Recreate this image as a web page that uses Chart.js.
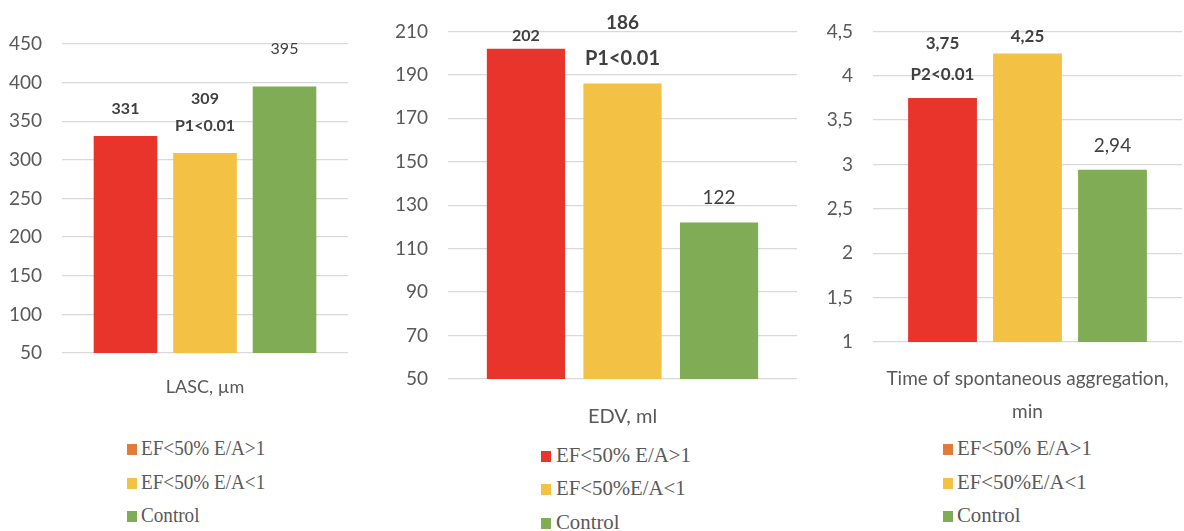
<!DOCTYPE html>
<html>
<head>
<meta charset="utf-8">
<script src="https://cdn.jsdelivr.net/npm/chart.js@4.4.1/dist/chart.umd.min.js"></script>
<style>
  html, body { margin: 0; padding: 0; background: #fff; }
  body { width: 1184px; height: 531px; position: relative; overflow: hidden; }
  .panel { position: absolute; top: 0; }
  .legend { position: absolute; font-family: "Liberation Serif", "Times New Roman", serif; color: #595959; }
  .legend .row { position: absolute; left: 0; white-space: nowrap; }
  .legend .box { position: absolute; left: 0; }
  .legend .txt { position: absolute; top: 0; transform-origin: 0 50%; display: inline-block; }
</style>
</head>
<body>
<div class="panel" id="p1" style="left:0;width:360px;height:410px"><canvas id="c1" width="360" height="410"></canvas></div>
<div class="panel" id="p2" style="left:380px;width:420px;height:440px"><canvas id="c2" width="420" height="440"></canvas></div>
<div class="panel" id="p3" style="left:800px;width:384px;height:430px"><canvas id="c3" width="384" height="430"></canvas></div>
<div class="legend" id="l1"></div>
<div class="legend" id="l2"></div>
<div class="legend" id="l3"></div>
<script>
// ---------- data ----------
const seriesNames1 = ['EF<50% E/A>1', 'EF<50% E/A<1', 'Control'];
const seriesNames2 = ['EF<50% E/A>1', 'EF<50%E/A<1', 'Control'];
const seriesNames3 = ['EF<50% E/A>1', 'EF<50%E/A<1', 'Control'];

const lascCategory = ['LASC, µm'];
const edvCategory = ['EDV, ml'];
const aggCategory = [['Time of spontaneous aggregation,', 'min']];

const lascValues = [331, 309, 395];
const edvValues = [202, 186, 122];
const aggValues = [3.75, 4.25, 2.94];

const lascNotes = ['', 'P1<0.01', ''];
const edvNotes = ['', 'P1<0.01', ''];
const aggNotes = ['P2<0.01', '', ''];

const lascAxis = { min: 50, max: 450, step: 50 };
const edvAxis = { min: 50, max: 210, step: 20 };
const aggAxis = { min: 1, max: 4.5, step: 0.5 };

// ---------- styles ----------
const barColors = ['#E8342A', '#F3C143', '#80AC56'];
const legendColors1 = ['#E07B39', '#F3C143', '#80AC56'];
const legendColors2 = ['#E8342A', '#F3C143', '#80AC56'];
const legendColors3 = ['#E07B39', '#F3C143', '#80AC56'];

const fmt = v => String(v).replace('.', ',');

const valueLabelPlugin = {
  id: 'valueLabels',
  afterDatasetsDraw(chart, args, opts) {
    const ctx = chart.ctx;
    ctx.save();
    ctx.textAlign = 'center';
    ctx.textBaseline = 'middle';
    ctx.fillStyle = '#404040';
    chart.data.datasets.forEach((ds, i) => {
      const bar = chart.getDatasetMeta(i).data[0];
      const lines = [fmt(ds.data[0])];
      if (opts.notes[i]) lines.push(opts.notes[i]);
      lines.forEach((t, j) => {
        const st = opts.styles[i][j];
        ctx.font = (st.bold ? 'bold ' : '') + st.size + 'px Lato';
        ctx.fillText(t, bar.x, bar.y - st.off);
      });
    });
    ctx.restore();
  }
};

function makeChart(id, category, names, values, axis, geom, notes, labelStyles, catFont) {
  const datasets = names.map((n, i) => ({
    label: n,
    data: [values[i]],
    backgroundColor: barColors[i],
    borderWidth: 0,
    categoryPercentage: geom.cp,
    barPercentage: geom.bp
  }));
  return new Chart(document.getElementById(id), {
    type: 'bar',
    data: { labels: category, datasets },
    plugins: [valueLabelPlugin],
    options: {
      responsive: false,
      animation: false,
      devicePixelRatio: 1,
      layout: { padding: { top: geom.top, right: geom.right, bottom: 0, left: 0 } },
      plugins: {
        legend: { display: false },
        tooltip: { enabled: false },
        valueLabels: { notes, styles: labelStyles }
      },
      scales: {
        x: {
          grid: { display: false },
          border: { display: false },
          ticks: {
            color: '#595959',
            font: { family: 'Lato', size: catFont.size, lineHeight: catFont.lh },
            padding: catFont.pad,
            maxRotation: 0,
            autoSkip: false
          },
          afterFit: s => { s.height = geom.xh; s.paddingLeft = 0; s.paddingRight = 0; }
        },
        y: {
          min: axis.min, max: axis.max,
          grid: { color: '#D9D9D9', lineWidth: 1.3, drawTicks: false },
          border: { display: false },
          ticks: {
            stepSize: axis.step,
            color: '#595959',
            padding: 20,
            font: { family: 'Lato', size: 19 },
            callback: v => fmt(v)
          },
          afterFit: s => { s.width = geom.yw; }
        }
      }
    }
  });
}

makeChart('c1', lascCategory, seriesNames1, lascValues, lascAxis,
  { cp: 0.834, bp: 0.80, top: 44, right: 12, xh: 410 - 353, yw: 62 }, lascNotes,
  [[{ bold: true, size: 16, off: 27 }],
   [{ bold: true, size: 16, off: 54 }, { bold: true, size: 16, off: 27 }],
   [{ bold: false, size: 16, off: 38 }]],
  { size: 18, lh: 1.2, pad: 15 });

makeChart('c2', edvCategory, seriesNames2, edvValues, edvAxis,
  { cp: 0.83, bp: 0.81, top: 27.5, right: 3, xh: 440 - 379, yw: 68 }, edvNotes,
  [[{ bold: true, size: 16, off: 13 }],
   [{ bold: true, size: 19, off: 61 }, { bold: true, size: 20, off: 25 }],
   [{ bold: false, size: 19, off: 25 }]],
  { size: 20, lh: 1.2, pad: 18 });

makeChart('c3', aggCategory, seriesNames3, aggValues, aggAxis,
  { cp: 0.825, bp: 0.81, top: 27.5, right: 2, xh: 430 - 342, yw: 73 }, aggNotes,
  [[{ bold: true, size: 17, off: 54 }, { bold: true, size: 17, off: 23 }],
   [{ bold: true, size: 17, off: 17 }],
   [{ bold: false, size: 19, off: 24 }]],
  { size: 19, lh: 1.75, pad: 12 });

// ---------- HTML legends ----------
function makeLegend(id, names, colors, pos) {
  const el = document.getElementById(id);
  el.style.left = pos.left + 'px';
  el.style.top = '0px';
  el.style.fontSize = pos.size + 'px';
  names.forEach((n, i) => {
    const row = document.createElement('div');
    row.className = 'row';
    const h = Math.round(pos.size * 1.2);
    row.style.top = (pos.rows[i] - h / 2) + 'px';
    row.style.height = h + 'px';
    row.style.lineHeight = h + 'px';
    const b = document.createElement('span');
    b.className = 'box';
    b.style.width = pos.box + 'px';
    b.style.height = (pos.box + 1) + 'px';
    b.style.top = ((h - pos.box - 1) / 2 + 1) + 'px';
    b.style.background = colors[i];
    const t = document.createElement('span');
    t.className = 'txt';
    t.style.left = pos.textLeft + 'px';
    t.style.transform = 'scaleX(' + pos.sx + ')';
    t.textContent = n;
    row.appendChild(b);
    row.appendChild(t);
    el.appendChild(row);
  });
}
makeLegend('l1', seriesNames1, legendColors1, { left: 127, textLeft: 14, size: 22, sx: 0.87, box: 10, rows: [448, 482, 515] });
makeLegend('l2', seriesNames2, legendColors2, { left: 541, textLeft: 15, size: 22, sx: 0.945, box: 10, rows: [455, 488, 522] });
makeLegend('l3', seriesNames3, legendColors3, { left: 943, textLeft: 14, size: 22, sx: 0.945, box: 10, rows: [448, 482, 515] });
</script>
</body>
</html>
